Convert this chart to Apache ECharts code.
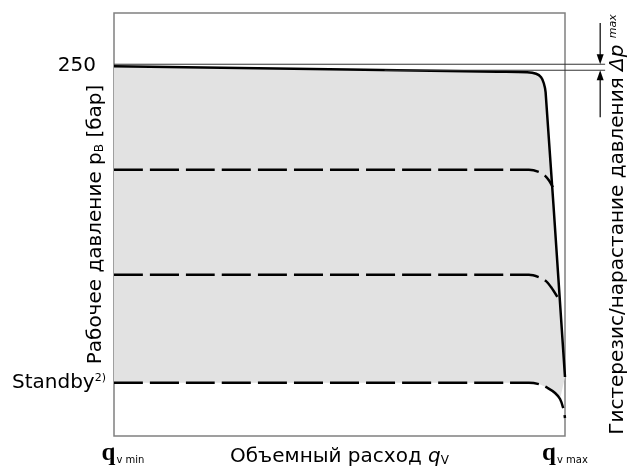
<!DOCTYPE html>
<html>
<head>
<meta charset="utf-8">
<script src="https://cdn.jsdelivr.net/npm/echarts@6/dist/echarts.min.js"></script>
<style>
html,body{margin:0;padding:0;background:#fff;}
#chart{width:633px;height:469px;}
</style>
</head>
<body>
<div id="chart"></div>
<script>
// ---- data (x: flow 0 = q_v min .. 100 = q_v max, y: pressure in bar) ----
const maxCurve = [[0,250],[85,246.3],[91.6,245.9],[93.6,244.9],[94.7,242.6],[95.3,238.5],[95.7,232.4],[100,39.9]];
const level180 = [[0,180],[88,180],[92,180],[94.2,178.6],[95.6,175.9],[96.5,172.6],[97.3,168.2]];
const level109 = [[0,109],[88,109],[92,109],[94.2,107.4],[95.8,104.7],[96.9,100.7],[98.3,94]];
const standby = [[0,36],[88,36],[92,36],[94.5,34.8],[96.2,32.4],[97.8,29.1],[98.9,25],[99.6,18.9],[100,12.2]];
const yTickValues = [36, 250];
const yTickLabels = ['Standby{sup|2)}', '{n|250}'];
const xTickValues = [0, 100];
const xTickLabels = ['{q|q}{s|v min}', '{q2|q}{s|v max}'];
// hysteresis annotation (data units)
const hystLevels = [251.35, 247.3];
const hystLineX = [[0,108.9],[60,108.9]];
const hystArrowX = 107.8;
const hystArrowTop = [279.3, 251.35];
const hystArrowBottom = [247.3, 215.5];

const FONT = 'DejaVu Sans';
const FS = 20;
const chart = echarts.init(document.getElementById('chart'), null, {renderer:'canvas'});

const fillPoly = maxCurve.concat(standby.filter(p => p[0] <= 99).slice().reverse());

const dashStyle = {color:'#000', width:2.5, type:[29,7]};

chart.setOption({
  animation:false,
  grid:{left:114,right:68,top:13,bottom:33,containLabel:false,outerBoundsMode:'none',show:true,borderColor:'#808080',borderWidth:1.5,backgroundColor:'transparent'},
  xAxis:{
    type:'value',min:0,max:100,
    axisLine:{show:false},axisTick:{show:false},splitLine:{show:false},
    axisLabel:{
      customValues:xTickValues,
      formatter:function(v){return xTickLabels[xTickValues.indexOf(v)] || '';},
      margin:5,
      rich:{
        q:{fontFamily:'Liberation Serif',fontWeight:'bold',fontSize:25,color:'#000',verticalAlign:'bottom',padding:[0,0,0,18]},
        q2:{fontFamily:'Liberation Serif',fontWeight:'bold',fontSize:25,color:'#000',verticalAlign:'bottom'},
        s:{fontFamily:FONT,fontSize:10,color:'#000',verticalAlign:'bottom',padding:[0,0,1,1]}
      }
    },
    name:'Объемный расход {q|q}{s|V}',
    nameLocation:'middle',nameGap:11,nameMoveOverlap:false,
    nameTextStyle:{
      fontFamily:FONT,fontSize:FS,color:'#000',verticalAlign:'top',
      rich:{
        q:{fontFamily:FONT,fontStyle:'italic',fontSize:FS,color:'#000',verticalAlign:'bottom'},
        s:{fontFamily:FONT,fontSize:12,color:'#000',verticalAlign:'bottom'}
      }
    }
  },
  yAxis:[{
    type:'value',min:0,max:286,
    axisLine:{show:false},axisTick:{show:false},splitLine:{show:false},
    axisLabel:{
      customValues:yTickValues,
      formatter:function(v){return yTickLabels[yTickValues.indexOf(v)] || '';},
      margin:8,
      fontFamily:FONT,fontSize:FS,color:'#000',
      rich:{
        n:{fontFamily:FONT,fontSize:FS,color:'#000',padding:[0,10,0,0]},
        sup:{fontFamily:FONT,fontSize:11,color:'#000',verticalAlign:'top'}
      }
    },
    name:'Рабочее давление p{s|B} [бар]',
    nameLocation:'middle',nameRotate:90,nameGap:8,nameMoveOverlap:false,
    nameTextStyle:{fontFamily:FONT,fontSize:FS,color:'#000',
      rich:{s:{fontFamily:FONT,fontSize:12,color:'#000',verticalAlign:'bottom'}}}
  },{
    type:'value',min:0,max:286,position:'right',
    axisLine:{show:false},axisTick:{show:false},splitLine:{show:false},axisLabel:{show:false},
    name:'Гистерезис/нарастание давления {i|Δp} {m|max}',
    nameLocation:'middle',nameRotate:90,nameGap:43,nameMoveOverlap:false,
    nameTextStyle:{fontFamily:FONT,fontSize:FS,color:'#000',
      rich:{
        i:{fontFamily:FONT,fontStyle:'italic',fontSize:FS,color:'#000'},
        m:{fontFamily:FONT,fontStyle:'italic',fontSize:11,color:'#000',verticalAlign:'top'}
      }}
  }],
  series:[
    {
      type:'custom',z:1,silent:true,
      data:[0],
      renderItem:function(params, api){
        return {type:'polygon',shape:{points:fillPoly.map(p=>api.coord(p))},style:{fill:'#e2e2e2'}};
      }
    },
    {type:'line',data:level180,showSymbol:false,smooth:0.35,clip:false,z:3,lineStyle:dashStyle},
    {type:'line',data:level109,showSymbol:false,smooth:0.35,clip:false,z:3,lineStyle:dashStyle},
    {type:'line',data:standby,showSymbol:false,smooth:0.35,clip:false,z:3,lineStyle:dashStyle},
    {type:'line',data:maxCurve,showSymbol:false,smooth:0.35,clip:false,z:4,lineStyle:{color:'#000',width:2.5}},
    {
      type:'custom',z:5,silent:true,
      data:[0],
      renderItem:function(params, api){
        const ch = [];
        hystLevels.forEach((lv,i)=>{
          const a = api.coord([hystLineX[i][0],lv]), b = api.coord([hystLineX[i][1],lv]);
          ch.push({type:'line',shape:{x1:a[0],y1:a[1],x2:b[0],y2:b[1]},style:{stroke:'#333',lineWidth:1}});
        });
        const t0 = api.coord([hystArrowX,hystArrowTop[0]]), t1 = api.coord([hystArrowX,hystArrowTop[1]]);
        const b0 = api.coord([hystArrowX,hystArrowBottom[0]]), b1 = api.coord([hystArrowX,hystArrowBottom[1]]);
        ch.push({type:'line',shape:{x1:t0[0],y1:t0[1],x2:t1[0],y2:t1[1]-8},style:{stroke:'#000',lineWidth:1.2}});
        ch.push({type:'polygon',shape:{points:[[t1[0],t1[1]],[t1[0]-3.5,t1[1]-10],[t1[0]+3.5,t1[1]-10]]},style:{fill:'#000'}});
        ch.push({type:'line',shape:{x1:b0[0],y1:b0[1]+8,x2:b1[0],y2:b1[1]},style:{stroke:'#000',lineWidth:1.2}});
        ch.push({type:'polygon',shape:{points:[[b0[0],b0[1]],[b0[0]-3.5,b0[1]+10],[b0[0]+3.5,b0[1]+10]]},style:{fill:'#000'}});
        return {type:'group',children:ch};
      }
    }
  ]
});
</script>
</body>
</html>
